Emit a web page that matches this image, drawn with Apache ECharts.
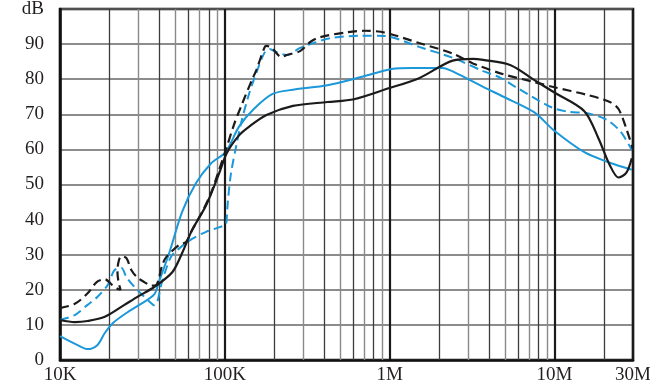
<!DOCTYPE html>
<html>
<head>
<meta charset="utf-8">
<script src="https://cdn.jsdelivr.net/npm/echarts@6/dist/echarts.min.js"></script>
<style>
  html, body { margin: 0; padding: 0; background: #ffffff; }
  #chart { width: 650px; height: 383px; }
</style>
</head>
<body>
<div id="chart"></div>
<script>
// ---- data (frequency in Hz, level in dB) ----
const xTickValues = [1e4, 1e5, 1e6, 1e7, 3e7];
const xTickLabels = ['10K', '100K', '1M', '10M', '30M'];
const yUnitLabel = 'dB';

const minorGridDark = [2e4, 4e4, 6e4, 8e4, 2e5, 4e5, 6e5, 8e5, 2e6, 4e6, 6e6, 8e6, 2e7];
const minorGridLight = [3e4, 5e4, 7e4, 9e4, 3e5, 5e5, 7e5, 9e5, 3e6, 5e6, 7e6, 9e6];

const blueSolid = [
  [10000, 6.8], [12700, 4.3], [14700, 3.1], [16900, 4.3], [18700, 7.7], [20900, 10.5],
  [25300, 13.4], [30300, 15.7], [37300, 18.7], [40000, 22.5], [46000, 30.5], [55100, 42.2],
  [66900, 50.4], [82400, 56], [101400, 59.3], [122000, 66.5], [150000, 71.5], [195000, 75.8],
  [259200, 77], [420000, 78.3], [671000, 80.6], [1029000, 82.9], [1368000, 83.2],
  [2094000, 83.2], [2518000, 81.8], [3698000, 77.8], [4910000, 75], [7530000, 70.6],
  [10000000, 65.3], [15200000, 59.2], [21700000, 56.2], [29500000, 54.2]
];

const blueDashed = [
  [10000, 11.4], [12300, 12.8], [14700, 15.7], [16900, 18], [19500, 21.4], [21400, 25.6],
  [23600, 26.2], [25300, 23.6], [28300, 20.8], [32500, 18], [35800, 16.2], [37300, 15.6],
  [38900, 16.5], [41100, 21.4], [44100, 26], [47300, 29.5], [52900, 31.8], [63300, 34.5],
  [76900, 36.5], [92100, 37.8], [101400, 38.7], [102900, 41], [104300, 45], [108900, 53],
  [117000, 60.7], [125600, 67.5], [140700, 76], [155400, 81.8], [174000, 87.5],
  [186800, 88.6], [206500, 87.7], [237900, 86.9], [286300, 88.9], [344400, 90.3],
  [438500, 91.7], [671000, 92.4], [931000, 92.3], [1510000, 89.2], [2414000, 86.1],
  [3698000, 82.3], [4710000, 80.4], [5910000, 77.6], [9580000, 72], [12200000, 70.7],
  [15900000, 70.3], [20700000, 68.5], [25300000, 65], [29500000, 59.8]
];

const blackSolid = [
  [10000, 11.4], [12300, 10.8], [14700, 11.1], [18700, 12.3], [24600, 15.7], [29500, 18],
  [37300, 20.8], [48000, 25], [55100, 30.5], [63300, 37], [76900, 44], [92100, 53],
  [102900, 59], [122000, 64], [140700, 66.5], [179000, 69.8], [259200, 72.4],
  [420000, 73.5], [608000, 74.3], [986000, 77.4], [1510000, 80.3], [2414000, 85.3],
  [3205000, 85.8], [3698000, 85.5], [5430000, 84], [7530000, 79.8], [10000000, 76.2],
  [15200000, 70.9], [18500000, 63.2], [21700000, 55.5], [24500000, 52], [27300000, 53.3],
  [29500000, 57.5]
];

const blackDashed = [
  [10000, 14.8], [12300, 16], [14700, 19], [16700, 22.2], [18700, 23], [20600, 21.5],
  [22300, 20.3], [23300, 20], [22600, 22.5], [22300, 25.5], [22800, 28.5], [23600, 29.6],
  [25300, 29], [27200, 25.5], [29500, 23.5], [32500, 22.2], [35800, 21.2], [38400, 21.4],
  [41700, 27], [44100, 29.3], [52900, 32.8], [58200, 33.6], [63300, 37], [72600, 42],
  [82400, 47.5], [92100, 54], [101400, 59.8], [113600, 67], [127400, 73], [146800, 80],
  [155400, 82.6], [174000, 89], [179000, 89.5], [192300, 88.9], [221600, 86.3],
  [237900, 86.9], [286300, 88], [330000, 90.6], [380000, 92], [558000, 93.4],
  [700000, 93.8], [931000, 93.3], [1510000, 90.3], [2414000, 87.3], [3205000, 84.5],
  [4910000, 81.4], [7530000, 79.2], [10000000, 77.7], [15900000, 75.5], [21700000, 73.5],
  [24500000, 71.5], [27300000, 66], [30000000, 60]
];

// ---- chart ----
const chart = echarts.init(document.getElementById('chart'), null, { renderer: 'canvas' });
const FONT = 'Liberation Serif';
const BLUE = '#1b98d9';
const BLACK = '#1c1a1b';

function labelFor(v) {
  for (let i = 0; i < xTickValues.length; i++) {
    if (Math.abs(Math.log10(v) - Math.log10(xTickValues[i])) < 0.01) return xTickLabels[i];
  }
  return '';
}

function gridSeries(values, color, width) {
  return {
    type: 'line',
    data: [],
    silent: true,
    z: 1,
    markLine: {
      silent: true,
      animation: false,
      symbol: ['none', 'none'],
      label: { show: false },
      emphasis: { disabled: true },
      lineStyle: { type: 'solid', color: color, width: width },
      data: values.map(v => ({ xAxis: v }))
    }
  };
}

function curve(data, color, dashed, width) {
  return {
    type: 'line',
    data: data,
    showSymbol: false,
    symbol: 'none',
    smooth: 0.3,
    z: 5,
    lineStyle: { color: color, width: width, type: dashed ? [9, 5] : 'solid' },
    emphasis: { disabled: true }
  };
}

chart.setOption({
  animation: false,
  backgroundColor: '#ffffff',
  grid: {
    left: 60, right: 17, top: 9, bottom: 23,
    containLabel: false,
    outerBoundsMode: 'none',
    show: true,
    borderColor: '#111111',
    borderWidth: 2.5,
    backgroundColor: 'transparent'
  },
  xAxis: {
    type: 'log',
    logBase: 10,
    min: 1e4,
    max: 3e7,
    axisLine: { show: true, lineStyle: { color: '#111111', width: 2.5 } },
    axisTick: { show: false },
    axisLabel: {
      margin: 6,
      color: '#231f20',
      fontFamily: FONT,
      fontSize: 19,
      showMinLabel: true,
      showMaxLabel: true,
      formatter: labelFor
    },
    splitLine: { show: true, lineStyle: { color: '#1a1a1a', width: 2.2 } },
    minorSplitLine: { show: false }
  },
  yAxis: {
    type: 'value',
    min: 0,
    max: 100,
    interval: 10,
    axisLine: { show: true, lineStyle: { color: '#111111', width: 2.5 } },
    axisTick: { show: false },
    axisLabel: {
      margin: 16,
      color: '#231f20',
      fontFamily: FONT,
      fontSize: 19,
      formatter: v => (v === 100 ? yUnitLabel : String(v))
    },
    splitLine: { show: true, lineStyle: { color: '#666666', width: 1.5 } }
  },
  series: [
    gridSeries(minorGridLight, '#8a8a8a', 1.4),
    gridSeries(minorGridDark, '#3c3c3c', 1.3),
    curve(blueSolid, BLUE, false, 2),
    curve(blueDashed, BLUE, true, 2),
    curve(blackSolid, BLACK, false, 2.2),
    curve(blackDashed, BLACK, true, 2.2)
  ]
});
</script>
</body>
</html>
